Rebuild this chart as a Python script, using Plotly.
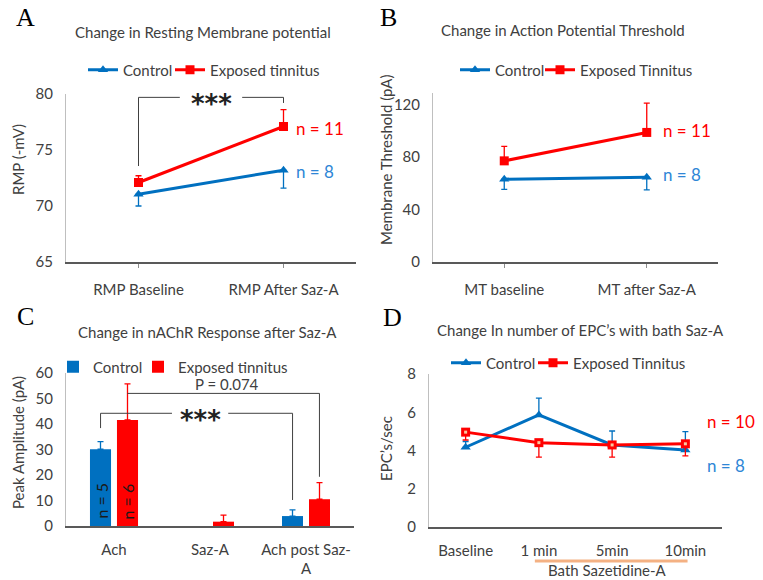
import plotly.graph_objects as go

# ---------------- data ----------------
A_cats = ["RMP Baseline", "RMP After Saz-A"]
A_ctrl = [71.05, 73.2]
A_ctrl_err = [1.05, 1.6]
A_exp = [72.1, 77.1]
A_exp_err = [0.6, 1.5]

B_cats = ["MT baseline", "MT after Saz-A"]
B_ctrl = [63.2, 64.7]
B_ctrl_err = [7.7, 9.7]
B_exp = [77.2, 98.9]
B_exp_err = [11.0, 22.4]

C_cats = ["Ach", "Saz-A", "Ach post Saz-<br>A"]
C_ctrl = [30.1, 0, 3.9]
C_ctrl_err = [3.0, 0, 2.4]
C_exp = [41.6, 1.7, 10.5]
C_exp_err = [14.1, 2.6, 6.5]

D_cats = ["Baseline", "1 min", "5min", "10min"]
D_ctrl = [4.17, 5.86, 4.29, 4.03]
D_ctrl_err = [0.3, 0.88, 0.73, 0.96]
D_exp = [4.96, 4.41, 4.29, 4.35]
D_exp_err = [0.41, 0.76, 0.64, 0.63]

BLUE = "#0070C0"
RED = "#FF0000"
NBLUE = "#2E86D6"
TXT = "#404040"
FONT = "Lato"

W, H = 763, 580


def px(x):
    return x / W


def py(y):
    return 1 - y / H


fig = go.Figure()


def line_pair(xa, ya, cats, ctrl, ctrl_err, exp, exp_err, exp_name, leg_c, leg_e,
              ctrl_dir="minus", exp_dir="plus"):
    zeros_c = [0] * len(ctrl)
    zeros_e = [0] * len(exp)
    ce = dict(type="data", symmetric=False, color=BLUE, thickness=1.3, width=3,
              array=ctrl_err if ctrl_dir == "plus" else zeros_c,
              arrayminus=ctrl_err if ctrl_dir == "minus" else zeros_c)
    ee = dict(type="data", symmetric=False, color=RED, thickness=1.3, width=3,
              array=exp_err if exp_dir == "plus" else zeros_e,
              arrayminus=exp_err if exp_dir == "minus" else zeros_e)
    fig.add_trace(go.Scatter(x=cats, y=ctrl, name="Control", mode="lines+markers",
                             line=dict(color=BLUE, width=3),
                             marker=dict(symbol="triangle-up", size=9, color=BLUE),
                             error_y=ce, xaxis=xa, yaxis=ya, legend=leg_c))
    fig.add_trace(go.Scatter(x=cats, y=exp, name=exp_name, mode="lines+markers",
                             line=dict(color=RED, width=3),
                             marker=dict(symbol="square", size=9, color=RED),
                             error_y=ee, xaxis=xa, yaxis=ya, legend=leg_e))


line_pair("x", "y", A_cats, A_ctrl, A_ctrl_err, A_exp, A_exp_err, "Exposed tinnitus",
          "legend", "legend2")
line_pair("x2", "y2", B_cats, B_ctrl, B_ctrl_err, B_exp, B_exp_err, "Exposed Tinnitus",
          "legend3", "legend4")
line_pair("x4", "y4", D_cats, D_ctrl, D_ctrl_err, D_exp, D_exp_err, "Exposed Tinnitus",
          "legend7", "legend8", ctrl_dir="plus", exp_dir="minus")
# light centre dots of the D squares
fig.add_trace(go.Scatter(x=D_cats, y=D_exp, mode="markers", showlegend=False, hoverinfo="skip",
                         marker=dict(symbol="square", size=3, color="#F8C8A0"),
                         xaxis="x4", yaxis="y4"))

# bars (C) -- zero-height bars left empty (no cap drawn)
c_ctrl_plot = [v if v else None for v in C_ctrl]
c_exp_plot = [v if v else None for v in C_exp]
fig.add_trace(go.Bar(x=C_cats, y=c_ctrl_plot, name="Control", marker=dict(color=BLUE, line=dict(width=0)),
                     error_y=dict(type="data", symmetric=False, array=C_ctrl_err,
                                  arrayminus=[0] * 3, color=BLUE, thickness=1.3, width=3),
                     xaxis="x3", yaxis="y3", legend="legend5"))
fig.add_trace(go.Bar(x=C_cats, y=c_exp_plot, name="Exposed tinnitus", marker=dict(color=RED, line=dict(width=0)),
                     error_y=dict(type="data", symmetric=False, array=C_exp_err,
                                  arrayminus=[0] * 3, color=RED, thickness=1.3, width=3),
                     xaxis="x3", yaxis="y3", legend="legend6"))


def xax(domain, anchor, ticks=True):
    return dict(domain=domain, anchor=anchor, type="category", showgrid=False, zeroline=False,
                showline=True, linecolor="#595959", linewidth=1.5,
                ticks="outside" if ticks else "", ticklen=4, tickcolor="#8c8c8c",
                ticklabelstandoff=9,
                tickfont=dict(family=FONT, size=15, color=TXT), fixedrange=True)


def yax(domain, anchor, rng, dtick):
    return dict(domain=domain, anchor=anchor, range=rng, dtick=dtick, tick0=rng[0],
                showgrid=False, zeroline=False, showline=True, linecolor="#bfbfbf", linewidth=1,
                ticks="", ticklabelstandoff=9,
                tickfont=dict(family=FONT, size=15, color=TXT), fixedrange=True)


layout = dict(
    width=W, height=H, margin=dict(l=0, r=0, t=0, b=0, autoexpand=False),
    paper_bgcolor="white", plot_bgcolor="white",
    barmode="group", bargap=0.4375, bargroupgap=0.22,
    xaxis=xax([px(66), px(356)], "y"),
    yaxis=yax([py(262), py(94)], "x", [65, 80], 5),
    xaxis2=xax([px(433), px(718)], "y2"),
    yaxis2=yax([py(262), py(93)], "x2", [0, 129], 40),
    xaxis3=xax([px(66), px(354)], "y3", ticks=False),
    yaxis3=yax([py(526), py(373)], "x3", [0, 60], 10),
    xaxis4=xax([px(429), px(722)], "y4", ticks=False),
    yaxis4=yax([py(527), py(374)], "x4", [0, 8], 2),
    showlegend=True,
)
layout["xaxis"]["range"] = [-0.5, 1.5]
layout["xaxis2"]["range"] = [-0.5, 1.5]
layout["xaxis3"]["range"] = [-0.5, 2.5]
layout["xaxis4"]["range"] = [-0.5, 3.5]


def leg(text_x, y):
    return dict(x=px(text_x - 40), y=py(y), xanchor="left", yanchor="middle", orientation="h",
                bgcolor="rgba(0,0,0,0)", borderwidth=0, font=dict(family=FONT, size=15, color=TXT),
                itemclick=False, itemdoubleclick=False)


legend_pos = [(123, 70), (210, 70), (495, 70), (580, 70),
              (93, 367), (178, 367), (486, 363), (573, 363)]
for i, (tx, ty) in enumerate(legend_pos):
    key = "legend" if i == 0 else "legend%d" % (i + 1)
    layout[key] = leg(tx, ty)
fig.update_layout(**layout)

ann = []


def text(x, y, s, size=14, color=TXT, family=FONT, xref="paper", yref="paper", xanchor="center",
         angle=0, bold=False, yshift=0):
    ann.append(dict(x=x, y=y, xref=xref, yref=yref, text=("<b>%s</b>" % s) if bold else s,
                    showarrow=False, xanchor=xanchor, yanchor="middle", textangle=angle, yshift=yshift,
                    font=dict(family=family, size=size, color=color)))


# titles
text(px(203), py(32), "Change in Resting Membrane potential", size=15)
text(px(563), py(30), "Change in Action Potential Threshold", size=15)
text(px(207), py(332), "Change in nAChR Response after Saz-A", size=15)
text(px(580), py(330), "Change In number of EPC’s with bath Saz-A", size=15)
# panel letters
for s, x, y in [("A", 25, 18), ("B", 389, 17), ("C", 25, 316), ("D", 392, 317)]:
    text(px(x), py(y), s, size=26, color="black", family="Liberation Serif")
# y titles
text(px(18), py(160), "RMP (-mV)", size=15, angle=-90)
text(px(386), py(160), "Membrane Threshold (pA)", size=15, angle=-90)
text(px(18), py(443), "Peak Amplitude (pA)", size=15, angle=-90)
text(px(386), py(449), "EPC’s/sec", size=15, angle=-90)

# n labels
text(1.07, 76.96, "n = 11", size=17, color=RED, xref="x", yref="y", xanchor="left")
text(1.07, 73.04, "n = 8", size=17, color=NBLUE, xref="x", yref="y", xanchor="left")
text(1.098, 100.2, "n = 11", size=17, color=RED, xref="x2", yref="y2", xanchor="left")
text(1.098, 66.5, "n = 8", size=17, color=NBLUE, xref="x2", yref="y2", xanchor="left")
text(3.265, 5.5, "n = 10", size=17, color=RED, xref="x4", yref="y4", xanchor="left")
text(3.265, 3.19, "n = 8", size=17, color=NBLUE, xref="x4", yref="y4", xanchor="left")
text(-0.14, 9.8, "n = 5", size=16, color="#1a1a1a", xref="x3", yref="y3", angle=-90)
text(0.14, 9.8, "n = 6", size=16, color="#1a1a1a", xref="x3", yref="y3", angle=-90)

# significance
text(0.5, 79.7, "***", size=26, color="#222222", family="DejaVu Sans", xref="x", yref="y",
     bold=True, yshift=-7)
text(0.9, 44.2, "***", size=26, color="#222222", family="DejaVu Sans", xref="x3", yref="y3",
     bold=True, yshift=-7)
text(1.18, 55.7, "P = 0.074", size=15, color=TXT, xref="x3", yref="y3")
text(px(607), py(570), "Bath Sazetidine-A", size=15, color=TXT)

fig.update_layout(annotations=ann)

shapes = []


def seg(x0, y0, x1, y1, xref, yref, color="#404040", width=1):
    shapes.append(dict(type="line", x0=x0, y0=y0, x1=x1, y1=y1, xref=xref, yref=yref,
                       line=dict(color=color, width=width)))


# bracket A
seg(0, 73.57, 0, 79.7, "x", "y")
seg(0, 79.7, 0.285, 79.7, "x", "y")
seg(0.715, 79.7, 1, 79.7, "x", "y")
seg(1, 79.7, 1, 79.2, "x", "y")
# bracket C (***)
seg(-0.14, 38.4, -0.14, 44.2, "x3", "y3")
seg(-0.14, 44.2, 0.604, 44.2, "x3", "y3")
seg(1.19, 44.2, 1.86, 44.2, "x3", "y3")
seg(1.86, 44.2, 1.86, 10.2, "x3", "y3")
# bracket C (P)
seg(0.14, 52.0, 2.14, 52.0, "x3", "y3")
seg(2.14, 52.0, 2.14, 19.3, "x3", "y3")
# orange bath line
shapes.append(dict(type="line", x0=0.945, x1=3.03, y0=py(561), y1=py(561), xref="x4", yref="paper",
                   line=dict(color="#F4B183", width=3)))
fig.update_layout(shapes=shapes)

fig.write_html("out.html", config={"displayModeBar": False},
               post_script="document.body.style.margin='0';document.body.style.overflow='hidden';")
